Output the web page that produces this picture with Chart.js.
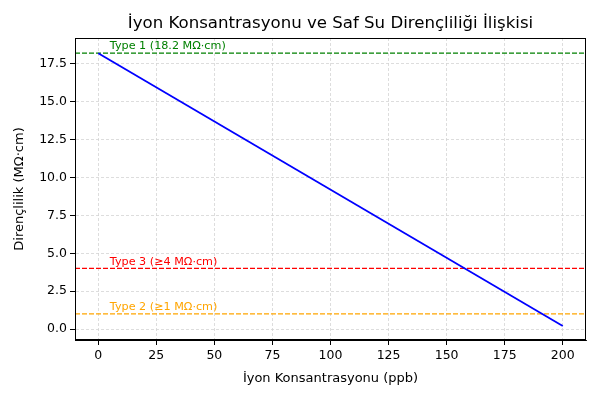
<!DOCTYPE html>
<html><head><meta charset="utf-8">
<script src="https://cdn.jsdelivr.net/npm/chart.js@4/dist/chart.umd.min.js"></script>
<style>html,body{margin:0;padding:0;background:#fff}#w{width:600px;height:400px}</style>
</head><body><div id="w"><canvas id="c" width="600" height="400"></canvas></div>
<script>
const concentration = [0, 200];
const resistivity = [18.2, 0.2];
const refLevels = [18.2, 4, 1];
const refLabels = ['Type 1 (18.2 MΩ·cm)', 'Type 3 (≥4 MΩ·cm)', 'Type 2 (≥1 MΩ·cm)'];
const refColors = ['#008000', '#ff0000', '#ffa500'];
const xTicks = [0, 25, 50, 75, 100, 125, 150, 175, 200];
const yTicks = [0, 2.5, 5, 7.5, 10, 12.5, 15, 17.5];
const labelX = 5;
const titleText = 'İyon Konsantrasyonu ve Saf Su Dirençliliği İlişkisi';
const FONT = 'DejaVu Sans';

const datasets = [{
  data: concentration.map((x, i) => ({x, y: resistivity[i]})),
  borderColor: '#0000ff', borderWidth: 1.8, pointRadius: 0, showLine: true, fill: false, order: 0
}];
refLevels.forEach((v, i) => datasets.push({
  data: [{x: -10, y: v}, {x: 210, y: v}],
  borderColor: refColors[i], borderWidth: 1.2, borderDash: [5, 2], pointRadius: 0, showLine: true, fill: false, order: 1
}));

const framePlugin = {
  id: 'frame',
  afterDraw(chart) {
    const {ctx, chartArea: a, scales} = chart;
    ctx.save();
    ctx.strokeStyle = '#000'; ctx.lineWidth = 1;
    ctx.strokeRect(a.left + 0.5, a.top + 0.5, a.right - a.left - 1, a.bottom - a.top - 1);
    ctx.font = '11.2px "' + FONT + '"';
    ctx.textBaseline = 'bottom';
    ctx.textAlign = 'left';
    refLevels.forEach((v, i) => {
      ctx.fillStyle = refColors[i];
      ctx.fillText(refLabels[i], scales.x.getPixelForValue(labelX), scales.y.getPixelForValue(v) - 1);
    });
    ctx.fillStyle = '#000';
    ctx.font = '16.6px "' + FONT + '"';
    ctx.textAlign = 'center';
    ctx.textBaseline = 'middle';
    ctx.fillText(titleText, (a.left + a.right) / 2, 24);
    ctx.restore();
  }
};

new Chart(document.getElementById('c'), {
  type: 'scatter',
  data: {datasets},
  options: {
    responsive: false, animation: false, devicePixelRatio: 1,
    layout: {padding: {top: 38, right: 14, left: 0, bottom: 10}},
    plugins: {
      legend: {display: false}, tooltip: {enabled: false}, title: {display: false}
    },
    scales: {
      x: {
        type: 'linear', min: -10, max: 210,
        afterBuildTicks: s => { s.ticks = xTicks.map(v => ({value: v})); },
        afterFit: s => { s.height = 50; },
        ticks: {color: '#000', font: {family: FONT, size: 12.5}, padding: 3, maxRotation: 0, callback: v => String(v)},
        grid: {color: '#d4d4d4', lineWidth: 0.8, tickColor: '#000', tickLength: 5, tickWidth: 1},
        border: {color: '#000', width: 1, dash: [3, 2]},
        title: {display: true, text: 'İyon Konsantrasyonu (ppb)', color: '#000', font: {family: FONT, size: 13}, padding: {top: 6}}
      },
      y: {
        type: 'linear', min: -0.72, max: 19.2,
        afterBuildTicks: s => { s.ticks = yTicks.map(v => ({value: v})); },
        afterFit: s => { s.width = 75; },
        ticks: {color: '#000', font: {family: FONT, size: 12.5}, padding: 3, callback: v => Number(v).toFixed(1)},
        grid: {color: '#d4d4d4', lineWidth: 0.8, tickColor: '#000', tickLength: 5, tickWidth: 1},
        border: {color: '#000', width: 1, dash: [3, 2]},
        title: {display: true, text: 'Dirençlilik (MΩ·cm)', color: '#000', font: {family: FONT, size: 13}, padding: {top: 12, bottom: 4}}
      }
    }
  },
  plugins: [framePlugin]
});
</script></body></html>
